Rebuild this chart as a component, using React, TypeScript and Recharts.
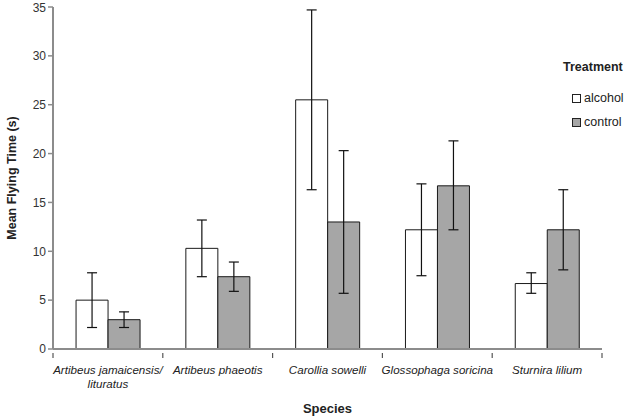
import { BarChart, Bar, XAxis, YAxis, ErrorBar, Label } from "recharts";

const species = [
  "Artibeus jamaicensis/\nlituratus",
  "Artibeus phaeotis",
  "Carollia sowelli",
  "Glossophaga soricina",
  "Sturnira lilium",
];
const alcoholMean = [5.0, 10.3, 25.5, 12.2, 6.7];
const alcoholLow = [2.2, 7.4, 16.3, 7.5, 5.7];
const alcoholHigh = [7.8, 13.2, 34.7, 16.9, 7.8];
const controlMean = [3.0, 7.4, 13.0, 16.7, 12.2];
const controlLow = [2.2, 5.9, 5.7, 12.2, 8.1];
const controlHigh = [3.8, 8.9, 20.3, 21.3, 16.3];
const yTicks = [0, 5, 10, 15, 20, 25, 30, 35];

const data = species.map((name, i) => ({
  name,
  alcohol: alcoholMean[i],
  alcoholErr: [alcoholMean[i] - alcoholLow[i], alcoholHigh[i] - alcoholMean[i]],
  control: controlMean[i],
  controlErr: [controlMean[i] - controlLow[i], controlHigh[i] - controlMean[i]],
}));

const font = "'Liberation Sans', Arial, sans-serif";
const axisColor = "#8c8c8c";

// category label plus tick marks on the category boundaries
function SpeciesTick(props: any) {
  const { x, y, payload, index } = props;
  const half = payload.offset ?? 0;
  const lines = String(payload.value).split("\n");
  const last = index === species.length - 1;
  return (
    <g>
      <line x1={x - half} x2={x - half} y1={y - 4} y2={y + 1} stroke="#555" strokeWidth={1.2} />
      {last && <line x1={x + half} x2={x + half} y1={y - 4} y2={y + 1} stroke="#555" strokeWidth={1.2} />}
      <text x={x} y={y + 17} textAnchor="middle" fontFamily={font} fontSize={11.6} fontStyle="italic" fill="#222">
        {lines.map((l: string, i: number) => (
          <tspan key={i} x={x} dy={i === 0 ? 0 : 14}>
            {l}
          </tspan>
        ))}
      </text>
    </g>
  );
}

export default function App() {
  return (
    <div style={{ position: "absolute", left: 0, top: 0, width: 630, height: 418, background: "#fff" }}>
      <BarChart
        width={630}
        height={418}
        data={data}
        margin={{ top: 7, right: 28, left: 0, bottom: 19 }}
        barCategoryGap="21%"
        barGap={0}
      >
        <XAxis
          dataKey="name"
          interval={0}
          tickLine={false}
          axisLine={{ stroke: axisColor, strokeWidth: 2 }}
          tick={<SpeciesTick />}
          height={50}
        >
          <Label value="Species" position="insideBottom" offset={-14} style={{ fontFamily: font, fontSize: 13, fontWeight: "bold", fill: "#222" }} />
        </XAxis>
        <YAxis
          domain={[0, 35]}
          ticks={yTicks}
          width={53}
          axisLine={{ stroke: axisColor, strokeWidth: 2 }}
          tickLine={{ stroke: axisColor, strokeWidth: 1.5 }}
          tickSize={5}
          tick={{ fontFamily: font, fontSize: 12, fill: "#333" }}
        >
          <Label
            value="Mean Flying Time (s)"
            angle={-90}
            position="insideLeft"
            offset={12}
            style={{ textAnchor: "middle", fontFamily: font, fontSize: 12.5, fontWeight: "bold", fill: "#222" }}
          />
        </YAxis>
        <Bar dataKey="alcohol" fill="#ffffff" stroke="#1a1a1a" strokeWidth={1} isAnimationActive={false}>
          <ErrorBar dataKey="alcoholErr" width={5} stroke="#111" strokeWidth={1.2} />
        </Bar>
        <Bar dataKey="control" fill="#a6a6a6" stroke="#1a1a1a" strokeWidth={1} isAnimationActive={false}>
          <ErrorBar dataKey="controlErr" width={5} stroke="#111" strokeWidth={1.2} />
        </Bar>
      </BarChart>
      <div style={{ position: "absolute", left: 563, top: 60, fontFamily: font, color: "#222" }}>
        <div style={{ fontSize: 12.5, fontWeight: "bold", marginBottom: 12 }}>Treatment</div>
        {[
          { name: "alcohol", fill: "#ffffff" },
          { name: "control", fill: "#a6a6a6" },
        ].map((item) => (
          <div key={item.name} style={{ display: "flex", alignItems: "center", marginLeft: 9, height: 24, fontSize: 12.5 }}>
            <span style={{ width: 7, height: 7, border: "1px solid #222", background: item.fill, marginRight: 3 }} />
            {item.name}
          </div>
        ))}
      </div>
    </div>
  );
}
